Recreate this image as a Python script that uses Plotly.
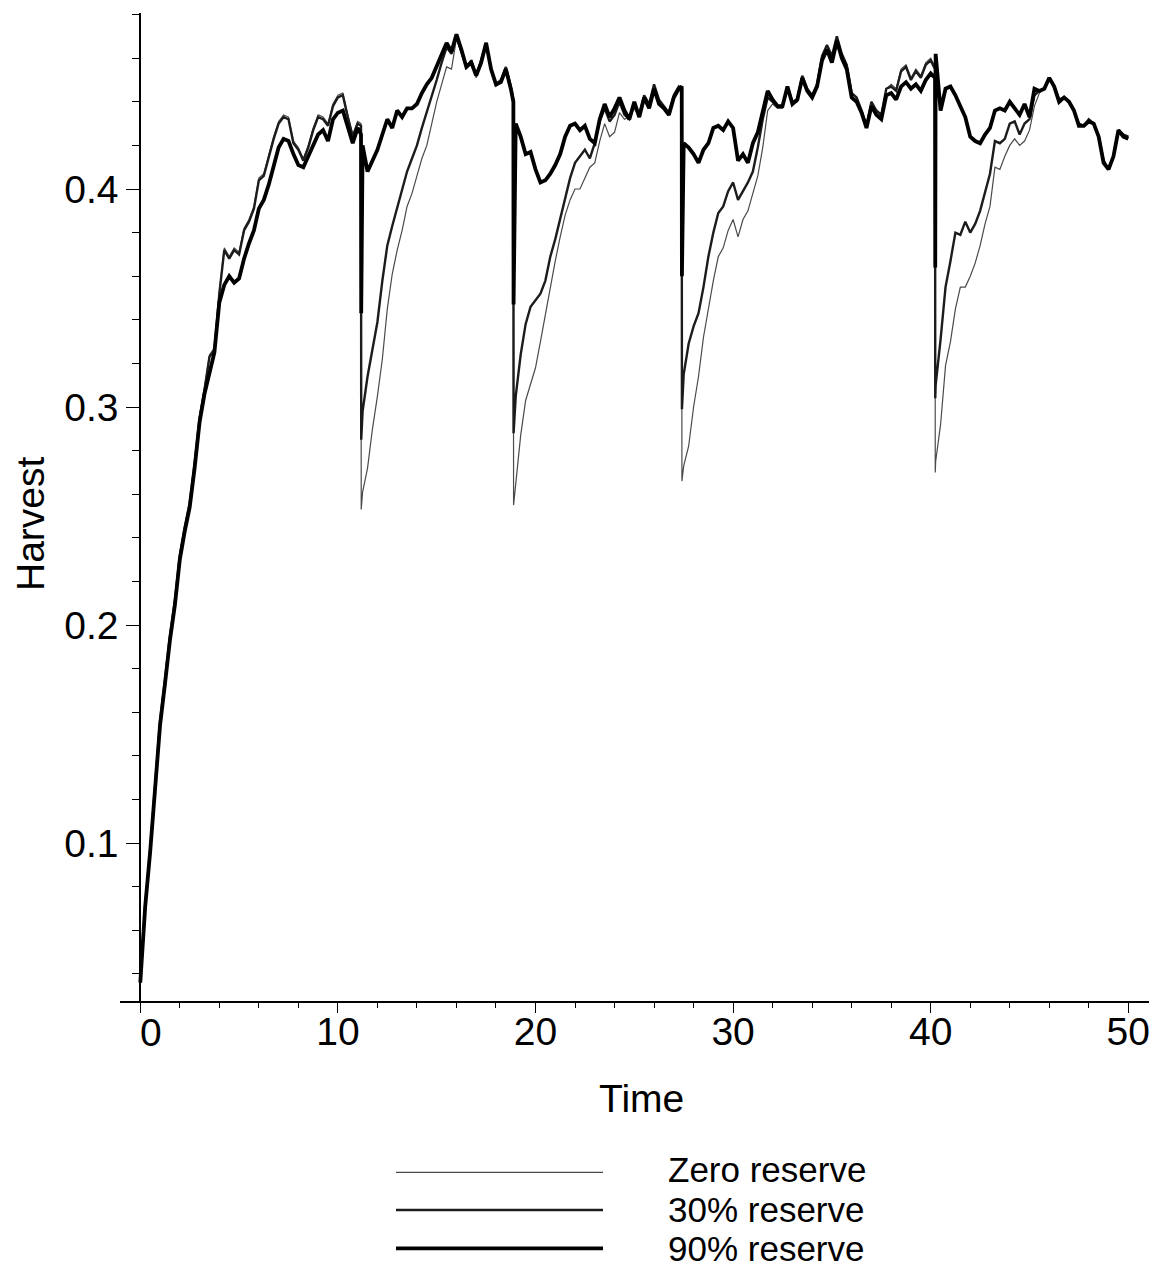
import plotly.graph_objects as go

# ---- data -------------------------------------------------------------
# sample times: quarter steps plus the instants of the four harvest shocks
grid = [i * 0.25 for i in range(201)]
shock_times = [11.17, 11.18, 18.88, 18.89, 27.40, 27.41, 40.22, 40.23]
time = sorted(grid + shock_times)

zero_reserve = [
    0.036, 0.072, 0.097, 0.125, 0.156, 0.175, 0.195, 0.211,
    0.233, 0.245, 0.256, 0.275, 0.296, 0.309, 0.324, 0.327,
    0.353, 0.373, 0.369, 0.373, 0.371, 0.382, 0.386, 0.392,
    0.405, 0.407, 0.416, 0.424, 0.431, 0.434, 0.433, 0.422,
    0.419, 0.414, 0.420, 0.428, 0.434, 0.433, 0.430, 0.439,
    0.443, 0.444, 0.434, 0.425, 0.431, 0.430, 0.253, 0.261,
    0.272, 0.290, 0.305, 0.322, 0.345, 0.361, 0.372, 0.381,
    0.392, 0.398, 0.406, 0.414, 0.420, 0.430, 0.440, 0.448,
    0.456, 0.455, 0.469, 0.462, 0.455, 0.458, 0.451, 0.458,
    0.466, 0.454, 0.447, 0.449, 0.455, 0.446, 0.441, 0.255,
    0.264, 0.287, 0.303, 0.311, 0.318, 0.330, 0.343, 0.356,
    0.367, 0.378, 0.388, 0.395, 0.400, 0.400, 0.405, 0.410,
    0.412, 0.422, 0.430, 0.424, 0.426, 0.435, 0.432, 0.433,
    0.437, 0.433, 0.442, 0.438, 0.447, 0.440, 0.437, 0.434,
    0.442, 0.447, 0.446, 0.266, 0.273, 0.282, 0.300, 0.314,
    0.332, 0.346, 0.358, 0.369, 0.373, 0.381, 0.386, 0.378,
    0.386, 0.390, 0.398, 0.406, 0.419, 0.436, 0.439, 0.437,
    0.437, 0.446, 0.439, 0.440, 0.451, 0.445, 0.442, 0.447,
    0.460, 0.466, 0.460, 0.470, 0.462, 0.457, 0.444, 0.442,
    0.436, 0.429, 0.440, 0.436, 0.433, 0.446, 0.448, 0.446,
    0.455, 0.457, 0.451, 0.455, 0.452, 0.458, 0.460, 0.456,
    0.270, 0.275, 0.292, 0.319, 0.330, 0.345, 0.355, 0.355,
    0.360, 0.366, 0.374, 0.384, 0.392, 0.410, 0.409, 0.415,
    0.420, 0.423, 0.420, 0.422, 0.427, 0.438, 0.444, 0.446,
    0.451, 0.447, 0.441, 0.442, 0.440, 0.436, 0.430, 0.429,
    0.431, 0.430, 0.424, 0.413, 0.409, 0.415, 0.427, 0.425,
    0.424,
]

reserve_30 = [
    0.036, 0.072, 0.097, 0.125, 0.156, 0.175, 0.195, 0.211,
    0.232, 0.245, 0.256, 0.274, 0.295, 0.308, 0.323, 0.326,
    0.352, 0.372, 0.368, 0.372, 0.370, 0.381, 0.385, 0.391,
    0.404, 0.406, 0.415, 0.423, 0.430, 0.433, 0.432, 0.421,
    0.418, 0.413, 0.419, 0.427, 0.433, 0.432, 0.429, 0.438,
    0.442, 0.443, 0.433, 0.424, 0.430, 0.429, 0.285, 0.298,
    0.314, 0.326, 0.339, 0.358, 0.374, 0.383, 0.391, 0.399,
    0.408, 0.414, 0.420, 0.428, 0.435, 0.443, 0.450, 0.458,
    0.465, 0.462, 0.470, 0.463, 0.456, 0.459, 0.452, 0.459,
    0.467, 0.455, 0.448, 0.450, 0.456, 0.447, 0.441, 0.288,
    0.305, 0.324, 0.338, 0.346, 0.349, 0.352, 0.358, 0.369,
    0.377, 0.386, 0.395, 0.405, 0.412, 0.415, 0.418, 0.414,
    0.421, 0.431, 0.437, 0.431, 0.434, 0.440, 0.434, 0.432,
    0.439, 0.434, 0.443, 0.439, 0.448, 0.441, 0.438, 0.435,
    0.443, 0.447, 0.446, 0.299, 0.315, 0.329, 0.337, 0.343,
    0.355, 0.369, 0.380, 0.389, 0.392, 0.399, 0.403, 0.395,
    0.399, 0.403, 0.408, 0.419, 0.432, 0.442, 0.440, 0.438,
    0.438, 0.447, 0.440, 0.441, 0.452, 0.446, 0.443, 0.448,
    0.461, 0.466, 0.461, 0.470, 0.462, 0.457, 0.444, 0.442,
    0.436, 0.429, 0.440, 0.436, 0.434, 0.446, 0.447, 0.445,
    0.454, 0.456, 0.450, 0.454, 0.451, 0.457, 0.459, 0.455,
    0.304, 0.310, 0.331, 0.355, 0.367, 0.380, 0.379, 0.385,
    0.380, 0.384, 0.390, 0.399, 0.407, 0.422, 0.421, 0.423,
    0.430, 0.431, 0.425, 0.430, 0.432, 0.443, 0.445, 0.446,
    0.451, 0.447, 0.441, 0.442, 0.440, 0.436, 0.430, 0.429,
    0.432, 0.430, 0.424, 0.413, 0.409, 0.415, 0.427, 0.425,
    0.424,
]

reserve_90 = [
    0.036, 0.071, 0.096, 0.124, 0.154, 0.173, 0.193, 0.209,
    0.230, 0.243, 0.254, 0.272, 0.293, 0.306, 0.316, 0.325,
    0.348, 0.356, 0.360, 0.357, 0.359, 0.368, 0.375, 0.381,
    0.391, 0.395, 0.402, 0.410, 0.419, 0.423, 0.422, 0.416,
    0.411, 0.410, 0.415, 0.419, 0.425, 0.427, 0.422, 0.432,
    0.435, 0.436, 0.429, 0.421, 0.428, 0.425, 0.343, 0.420,
    0.408, 0.413, 0.418, 0.425, 0.432, 0.428, 0.436, 0.433,
    0.437, 0.437, 0.439, 0.444, 0.448, 0.451, 0.456, 0.461,
    0.467, 0.463, 0.471, 0.464, 0.456, 0.458, 0.452, 0.458,
    0.467, 0.455, 0.448, 0.449, 0.455, 0.446, 0.440, 0.347,
    0.430, 0.424, 0.416, 0.417, 0.409, 0.403, 0.404, 0.407,
    0.411, 0.416, 0.424, 0.429, 0.430, 0.427, 0.429, 0.423,
    0.421, 0.432, 0.439, 0.433, 0.437, 0.442, 0.436, 0.432,
    0.440, 0.433, 0.442, 0.437, 0.446, 0.439, 0.437, 0.434,
    0.442, 0.446, 0.447, 0.360, 0.421, 0.419, 0.416, 0.412,
    0.418, 0.421, 0.428, 0.429, 0.427, 0.431, 0.428, 0.413,
    0.416, 0.412, 0.421, 0.426, 0.436, 0.445, 0.441, 0.438,
    0.438, 0.447, 0.439, 0.441, 0.451, 0.445, 0.442, 0.447,
    0.459, 0.464, 0.458, 0.468, 0.460, 0.455, 0.442, 0.440,
    0.435, 0.428, 0.438, 0.434, 0.432, 0.443, 0.444, 0.441,
    0.447, 0.449, 0.446, 0.448, 0.445, 0.450, 0.453, 0.451,
    0.364, 0.462, 0.436, 0.446, 0.447, 0.443, 0.438, 0.433,
    0.424, 0.422, 0.421, 0.425, 0.428, 0.436, 0.437, 0.436,
    0.440, 0.437, 0.434, 0.439, 0.433, 0.446, 0.445, 0.446,
    0.451, 0.447, 0.440, 0.442, 0.440, 0.436, 0.429, 0.429,
    0.431, 0.430, 0.424, 0.412, 0.409, 0.415, 0.427, 0.424,
    0.423,
]

series_names = ["Zero reserve", "30% reserve", "90% reserve"]
series_values = [zero_reserve, reserve_30, reserve_90]

for vals in series_values:
    if len(vals) != len(time):
        raise ValueError(f"series length {len(vals)} != {len(time)}")

x_major = [0, 10, 20, 30, 40, 50]
x_labels = ["", "10", "20", "30", "40", "50"]
y_major = [0.1, 0.2, 0.3, 0.4]
y_labels = ["0.1", "0.2", "0.3", "0.4"]

# ---- styling ----------------------------------------------------------
FONT = "Liberation Sans, Arial, Helvetica, sans-serif"
FS = 39
LEGEND_FS = 35
line_styles = [
    dict(color="#4a4a4a", width=1.2),
    dict(color="#1c1c1c", width=2.4),
    dict(color="#000000", width=3.8),
]

W, H = 1160, 1269
PLOT_L, PLOT_R, PLOT_T, PLOT_B = 120, 1149, 13, 1001


def px_x(px):
    return (px - PLOT_L) / (PLOT_R - PLOT_L)


def px_y(py):
    return (PLOT_B - py) / (PLOT_B - PLOT_T)


fig = go.Figure()
for name, vals, style in zip(series_names, series_values, line_styles):
    fig.add_trace(go.Scatter(x=time, y=vals, mode="lines", name=name,
                             line=style, hoverinfo="skip"))

x_minor = [v for v in range(2, 51, 2) if v % 10 != 0]
y_minor = [round(0.02 * k, 2) for k in range(2, 25) if k % 5 != 0]

fig.update_layout(
    width=W, height=H,
    margin=dict(l=PLOT_L, r=W - PLOT_R, t=PLOT_T, b=H - PLOT_B, pad=0),
    paper_bgcolor="white", plot_bgcolor="white",
    showlegend=False,
    font=dict(family=FONT, size=FS, color="black"),
)

fig.update_xaxes(
    range=[-1.027, 51.047], showgrid=False, zeroline=False,
    showline=True, linecolor="black", linewidth=2,
    ticks="outside", ticklen=10, tickwidth=1.3, tickcolor="black",
    tickmode="array", tickvals=x_major, ticktext=x_labels,
    ticklabelstandoff=-15,
    tickfont=dict(family=FONT, size=FS, color="black"),
    minor=dict(tickmode="array", tickvals=x_minor, ticks="outside",
               ticklen=5, tickwidth=1.3, tickcolor="black", showgrid=False),
)

fig.update_yaxes(
    range=[(1061 - PLOT_B) / 2180, (1061 - PLOT_T) / 2180],
    anchor="free", position=px_x(140.3),
    showgrid=False, zeroline=False,
    showline=True, linecolor="black", linewidth=2,
    ticks="outside", ticklen=13, tickwidth=1.3, tickcolor="black",
    tickmode="array", tickvals=y_major, ticktext=y_labels,
    tickfont=dict(family=FONT, size=FS, color="black"),
    minor=dict(tickmode="array", tickvals=y_minor, ticks="outside",
               ticklen=7, tickwidth=1.3, tickcolor="black", showgrid=False),
)

annotations = [
    # the "0" time label sits just right of the vertical axis
    dict(text="0", xref="x", x=0, yref="paper", y=px_y(1032), xshift=11,
         showarrow=False, xanchor="center", yanchor="middle",
         font=dict(family=FONT, size=FS, color="black")),
    dict(text="Time", xref="paper", x=px_x(641.5), yref="paper", y=px_y(1098),
         showarrow=False, xanchor="center", yanchor="middle",
         font=dict(family=FONT, size=FS, color="black")),
    dict(text="Harvest", xref="paper", x=px_x(30), yref="paper", y=px_y(524),
         textangle=-90, showarrow=False, xanchor="center", yanchor="middle",
         font=dict(family=FONT, size=FS, color="black")),
]

# hand-drawn key below the axes: sample line on the left, label on the right
shapes = []
key_line_rows = [1172.3, 1210, 1248.3]
key_text_rows = [1169.5, 1209, 1248.5]
for name, style, lrow, trow in zip(series_names, line_styles,
                                    key_line_rows, key_text_rows):
    shapes.append(dict(type="line", xref="paper", yref="paper",
                       x0=px_x(396), x1=px_x(603), y0=px_y(lrow), y1=px_y(lrow),
                       line=dict(color=style["color"], width=style["width"])))
    annotations.append(dict(text=name, xref="paper", x=px_x(667), yref="paper",
                            y=px_y(trow), showarrow=False, xanchor="left",
                            yanchor="middle", borderpad=0,
                            font=dict(family=FONT, size=LEGEND_FS,
                                      color="black")))

fig.update_layout(annotations=annotations, shapes=shapes)

fig.write_html("out.html")
